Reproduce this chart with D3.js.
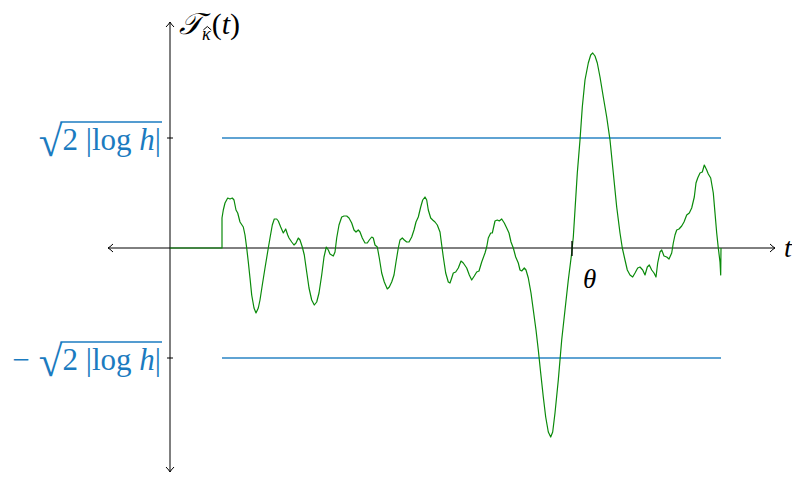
<!DOCTYPE html>
<html>
<head>
<meta charset="utf-8">
<script src="https://cdn.jsdelivr.net/npm/d3@7"></script>
<style>
body { margin: 0; background: #fff; }
</style>
</head>
<body>
<script>
// curve samples
let tVals = [0, 0.52, 0.52, 0.533, 0.55, 0.577, 0.60, 0.623, 0.64, 0.66, 0.677, 0.70, 0.733, 0.75, 0.767, 0.783, 0.80, 0.817, 0.84, 0.86, 0.883, 0.90, 0.923, 0.95, 0.983,
  1.00, 1.023, 1.043, 1.067, 1.083, 1.107, 1.133, 1.157, 1.177, 1.19, 1.217, 1.24, 1.26, 1.283, 1.30, 1.323, 1.343, 1.367, 1.39, 1.417, 1.443, 1.467, 1.49, 1.517, 1.54, 1.563, 1.583,
  1.60, 1.633, 1.65, 1.667, 1.69, 1.717, 1.74, 1.767, 1.79, 1.817, 1.84, 1.86, 1.883, 1.90, 1.923, 1.95, 1.973, 1.993,
  2.017, 2.033, 2.05, 2.073, 2.093, 2.117, 2.143, 2.173, 2.193, 2.217, 2.24, 2.26, 2.283, 2.30, 2.323, 2.343, 2.367, 2.39, 2.417, 2.44, 2.46, 2.483, 2.507, 2.527, 2.55, 2.567, 2.583,
  2.607, 2.627, 2.65, 2.673, 2.70, 2.717, 2.733, 2.757, 2.783, 2.80, 2.817, 2.833, 2.857, 2.883, 2.91, 2.933, 2.967, 2.993,
  3.017, 3.043, 3.067, 3.09, 3.117, 3.15, 3.167, 3.183, 3.207, 3.223, 3.25, 3.273, 3.293, 3.317, 3.343, 3.367, 3.39, 3.41, 3.433, 3.457, 3.483, 3.50, 3.517, 3.543, 3.56, 3.583,
  3.61, 3.633, 3.66, 3.683, 3.707, 3.733, 3.757, 3.783, 3.807, 3.827, 3.85, 3.883, 3.917, 3.95, 3.983,
  4.017, 4.033, 4.05, 4.073, 4.10, 4.123, 4.15, 4.183, 4.207, 4.227, 4.25, 4.273, 4.30, 4.333, 4.367, 4.40, 4.433, 4.467, 4.50, 4.523, 4.55, 4.573,
  4.60, 4.627, 4.65, 4.677, 4.70, 4.727, 4.75, 4.773, 4.793, 4.817, 4.84, 4.86, 4.877, 4.90, 4.917, 4.94, 4.967, 4.99,
  5.017, 5.033, 5.05, 5.067, 5.09, 5.117, 5.14, 5.167, 5.193, 5.217, 5.243, 5.26, 5.277, 5.30, 5.323, 5.343, 5.367, 5.383, 5.407, 5.433, 5.45, 5.467, 5.483, 5.50, 5.507, 5.51]

let vVals = [0, 0, 0.30, 0.38, 0.45, 0.50, 0.49, 0.50, 0.48, 0.38, 0.35, 0.26, 0.21, 0.13, 0.0, -0.14, -0.30, -0.47, -0.60, -0.65, -0.60, -0.52, -0.37, -0.20, 0.0,
  0.10, 0.23, 0.29, 0.29, 0.27, 0.21, 0.15, 0.19, 0.13, 0.10, 0.06, 0.03, 0.05, 0.10, 0.08, 0.01, -0.07, -0.24, -0.40, -0.52, -0.57, -0.54, -0.45, -0.27, -0.09, 0.01, -0.02,
  -0.06, -0.08, -0.04, 0.10, 0.23, 0.31, 0.32, 0.32, 0.30, 0.25, 0.18, 0.16, 0.18, 0.16, 0.10, 0.05, 0.05, 0.08,
  0.11, 0.10, 0.03, 0.01, -0.10, -0.25, -0.34, -0.41, -0.39, -0.34, -0.27, -0.14, 0.0, 0.08, 0.10, 0.08, 0.06, 0.06, 0.11, 0.18, 0.26, 0.31, 0.41, 0.48, 0.51, 0.48, 0.38,
  0.30, 0.28, 0.26, 0.23, 0.16, 0.03, -0.09, -0.25, -0.34, -0.35, -0.30, -0.25, -0.24, -0.20, -0.13, -0.15, -0.20, -0.27,
  -0.32, -0.28, -0.24, -0.23, -0.14, -0.05, 0.01, 0.10, 0.15, 0.15, 0.27, 0.28, 0.27, 0.29, 0.25, 0.20, 0.15, 0.06, 0.0, -0.09, -0.15, -0.22, -0.23, -0.20, -0.22, -0.30,
  -0.45, -0.62, -0.82, -1.02, -1.25, -1.49, -1.69, -1.84, -1.89, -1.84, -1.65, -1.32, -0.92, -0.62, -0.32,
  -0.05, 0.11, 0.38, 0.75, 1.08, 1.41, 1.68, 1.85, 1.93, 1.95, 1.92, 1.85, 1.71, 1.51, 1.31, 1.08, 0.75, 0.41, 0.15, 0.0, -0.12, -0.22,
  -0.27, -0.29, -0.25, -0.20, -0.19, -0.22, -0.27, -0.19, -0.17, -0.22, -0.25, -0.29, -0.15, -0.04, -0.02, -0.08, -0.09, -0.11,
  -0.05, 0.05, 0.13, 0.18, 0.19, 0.22, 0.26, 0.33, 0.35, 0.40, 0.51, 0.65, 0.70, 0.75, 0.76, 0.83, 0.78, 0.74, 0.70, 0.55, 0.35, 0.15, 0.0, -0.14, -0.27, 0]

let threshold = 1.1      // level of sqrt(2|log h|)
let thresholdSpan = [0.52, 5.51]
let theta = 4.02
let axisT = [-0.62, 6.05]
let axisV = [-2.24, 2.26]

let width = 792,
    height = 477

let svg = d3.select("body").append("svg").attr("width", width).attr("height", height)

let x = d3.scaleLinear().domain([0, 6]).range([170, 770])
let y = d3.scaleLinear().domain([-1, 1]).range([348, 148])

let blue = "#2a84c4", blueText = "#1b7bc0", green = "#0a8a0a"
let serif = "'Liberation Serif', 'DejaVu Serif', serif"

// threshold lines
svg.selectAll(".thr")
  .data([threshold, -threshold])
  .enter().append("line")
  .attr("x1", x(thresholdSpan[0])).attr("x2", x(thresholdSpan[1]))
  .attr("y1", d => y(d)).attr("y2", d => y(d))
  .attr("stroke", blue).attr("stroke-width", 1.4)

// axes
let ax = svg.append("g").attr("stroke", "#000").attr("stroke-width", 1).attr("fill", "none")
ax.append("line").attr("x1", x(axisT[0])).attr("x2", x(axisT[1])).attr("y1", y(0)).attr("y2", y(0))
ax.append("line").attr("x1", x(0)).attr("x2", x(0)).attr("y1", y(axisV[1])).attr("y2", y(axisV[0]))

function arrow(px, py, dx, dy) {
  // open tikz-like arrow tip pointing along (dx,dy)
  let nx = -dy, ny = dx
  let p = d3.path()
  p.moveTo(px - 5 * dx + 4 * nx, py - 5 * dy + 4 * ny)
  p.quadraticCurveTo(px - 1.5 * dx + 0.6 * nx, py - 1.5 * dy + 0.6 * ny, px, py)
  p.quadraticCurveTo(px - 1.5 * dx - 0.6 * nx, py - 1.5 * dy - 0.6 * ny, px - 5 * dx - 4 * nx, py - 5 * dy - 4 * ny)
  ax.append("path").attr("d", p.toString())
}
arrow(x(axisT[1]), y(0), 1, 0)
arrow(x(axisT[0]), y(0), -1, 0)
arrow(x(0), y(axisV[1]), 0, -1)
arrow(x(0), y(axisV[0]), 0, 1)

// ticks on the vertical axis
ax.selectAll(".tk")
  .data([threshold, -threshold])
  .enter().append("line")
  .attr("x1", x(0) - 3).attr("x2", x(0) + 3)
  .attr("y1", d => y(d)).attr("y2", d => y(d))

// the curve
let line = d3.line()
  .x(d => x(d[0]))
  .y(d => y(d[1]))

svg.append("path")
  .datum(d3.zip(tVals, vVals))
  .attr("fill", "none")
  .attr("stroke", green)
  .attr("stroke-width", 1.2)
  .attr("stroke-linejoin", "round")
  .attr("d", line)

// theta tick
svg.append("line")
  .attr("x1", x(theta)).attr("x2", x(theta))
  .attr("y1", y(0) - 7).attr("y2", y(0) + 8)
  .attr("stroke", "#000").attr("stroke-width", 1.3)

svg.append("text")
  .attr("x", x(theta) + 11).attr("y", y(0) + 40)
  .attr("font-family", serif).attr("font-style", "italic").attr("font-size", 27)
  .text("θ")

svg.append("text")
  .attr("x", x(axisT[1]) + 9).attr("y", y(0) + 9)
  .attr("font-family", serif).attr("font-style", "italic").attr("font-size", 28)
  .text("t")

// y axis title
let title = svg.append("text")
  .attr("x", x(0) + 9).attr("y", 34)
  .attr("font-family", serif).attr("font-size", 30)
title.append("tspan").attr("font-style", "italic").text("𝒯")
title.append("tspan").attr("font-style", "italic").attr("font-size", 18).attr("dy", 6).text("κ")
title.append("tspan").attr("dy", -6).attr("dx", 1).text("(")
title.append("tspan").attr("font-style", "italic").text("t")
title.append("tspan").text(")")
// hat over kappa (index 2: the script T takes two code units)
let kb = title.node().getExtentOfChar(2)
let kx = kb.x + kb.width / 2 + 1
svg.append("path")
  .attr("d", "M" + (kx - 4) + "," + (kb.y + 6) + "L" + kx + "," + (kb.y + 2.5) + "L" + (kx + 4) + "," + (kb.y + 6))
  .attr("fill", "none").attr("stroke", "#000").attr("stroke-width", 1)

// threshold labels with a drawn vinculum
function rootLabel(level, sign) {
  let t = svg.append("text")
    .attr("x", x(0) - 9).attr("y", y(level) + 12)
    .attr("text-anchor", "end")
    .attr("font-family", serif).attr("font-size", 31)
    .attr("fill", blueText)
  if (sign) t.append("tspan").text("−")
  t.append("tspan").attr("font-size", 43).attr("dy", 6).attr("dx", sign ? 9 : 0).text("√")
  t.append("tspan").attr("dy", -6).text("2 |log ")
  t.append("tspan").attr("font-style", "italic").text("h")
  t.append("tspan").text("|")
  let n = t.node()
  let k = sign ? 1 : 0
  let r = n.getExtentOfChar(k)
  let bb = n.getBBox()
  svg.append("line")
    .attr("x1", r.x + r.width - 2).attr("x2", bb.x + bb.width + 1)
    .attr("y1", y(level) - 16).attr("y2", y(level) - 16)
    .attr("stroke", blueText).attr("stroke-width", 1.3)
}
rootLabel(threshold, false)
rootLabel(-threshold, true)
</script>
</body>
</html>
